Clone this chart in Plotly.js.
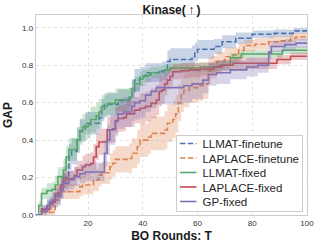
<!DOCTYPE html>
<html>
<head>
<meta charset="utf-8">
<script src="https://cdn.plot.ly/plotly-3.0.1.min.js"></script>
<style>html,body{margin:0;padding:0;background:#fff;}#chart{width:319px;height:248px;}</style>
</head>
<body>
<div id="chart"></div>
<script>
const seriesNames = ["LLMAT-finetune", "LAPLACE-finetune", "LLMAT-fixed", "LAPLACE-fixed", "GP-fixed"];

const tLlmatFt = [1,3,5,7,9,10,11,13,14,16,17,19,24,25,26,31,35,36,37,39,41,47,49,50,58,59,60,66,69,74,80,88,95,100];
const meanLlmatFt = [0,.035,.06,.08,.10,.15,.20,.31,.34,.40,.45,.49,.52,.56,.59,.61,.62,.66,.72,.74,.76,.77,.82,.83,.845,.87,.885,.90,.925,.944,.965,.97,.983,.983];
const stdLlmatFt = [0,.02,.03,.04,.05,.06,.06,.07,.07,.07,.06,.06,.06,.06,.06,.06,.06,.06,.06,.05,.05,.05,.06,.06,.06,.05,.05,.04,.035,.03,.02,.02,.015,.015];

const tLaplaceFt = [1,3,8,9,17,18,22,24,25,28,29,30,35,36,38,39,42,43,48,49,51,52,53,54,55,57,60,62,64,65,67,70,73,75,77,81,86,90,94,96,100];
const meanLaplaceFt = [0,.015,.08,.125,.15,.16,.187,.213,.226,.258,.276,.297,.302,.33,.365,.40,.415,.436,.454,.49,.51,.54,.60,.64,.665,.68,.69,.70,.77,.79,.82,.845,.855,.88,.905,.912,.925,.93,.945,.952,.952];
const stdLaplaceFt = [0,.02,.03,.04,.05,.05,.06,.06,.06,.07,.07,.07,.08,.08,.09,.09,.09,.09,.1,.1,.1,.1,.1,.09,.09,.08,.08,.08,.07,.06,.05,.05,.04,.04,.03,.03,.03,.025,.025,.02,.02];

const tLlmatFix = [1,2,3,5,7,8,9,11,12,13,16,17,18,20,21,23,24,25,27,30,35,36,37,39,40,42,43,46,48,50,61,68,72,76,91,100];
const meanLlmatFix = [0,.05,.115,.13,.137,.16,.205,.24,.31,.35,.40,.445,.47,.48,.51,.53,.55,.58,.595,.615,.63,.675,.70,.725,.74,.747,.76,.765,.775,.785,.79,.80,.84,.86,.88,.88];
const stdLlmatFix = [0,.02,.03,.04,.04,.05,.05,.06,.06,.06,.06,.07,.07,.07,.07,.07,.07,.06,.06,.06,.05,.05,.04,.04,.035,.035,.03,.03,.03,.025,.025,.025,.025,.02,.02,.02];

const tLaplaceFix = [1,3,6,7,8,10,11,12,15,16,18,19,21,22,23,24,27,29,30,31,33,34,37,39,41,43,45,46,47,48,49,50,51,54,57,61,66,69,73,89,94,100];
const meanLaplaceFix = [0,.03,.06,.07,.115,.16,.185,.195,.21,.24,.258,.267,.275,.31,.365,.39,.455,.46,.505,.515,.52,.54,.56,.57,.58,.596,.614,.66,.667,.70,.72,.74,.765,.77,.775,.78,.79,.80,.81,.83,.848,.848];
const stdLaplaceFix = [0,.02,.03,.03,.04,.04,.04,.04,.05,.05,.06,.06,.06,.07,.07,.07,.07,.07,.07,.07,.07,.07,.07,.08,.08,.08,.08,.08,.07,.06,.05,.05,.04,.04,.04,.035,.035,.03,.03,.025,.02,.02];

const tGpFix = [1,3,5,6,7,8,10,11,13,15,17,19,26,27,28,30,31,33,36,37,39,41,43,45,55,58,62,64,67,72,78,82,86,87,92,96,100];
const meanGpFix = [0,.02,.05,.07,.08,.10,.135,.17,.187,.205,.22,.23,.33,.40,.455,.50,.54,.55,.58,.60,.61,.64,.66,.68,.69,.70,.72,.75,.76,.775,.79,.80,.87,.90,.91,.918,.918];
const stdGpFix = [0,.02,.03,.03,.04,.04,.05,.05,.05,.05,.05,.05,.07,.08,.08,.08,.08,.08,.08,.09,.09,.09,.09,.09,.09,.08,.07,.06,.06,.05,.05,.04,.04,.03,.03,.025,.025];

const xTicks = [20, 40, 60, 80, 100];
const yTicks = [0, 0.2, 0.4, 0.6, 0.8, 1.0];

const colors = ["#4c72b0", "#dd8452", "#55a868", "#c44e52", "#8172b3"];
const fills = ["rgba(76,114,176,0.3)", "rgba(221,132,82,0.3)", "rgba(85,168,104,0.3)", "rgba(196,78,82,0.3)", "rgba(129,114,179,0.3)"];
const dashes = ["5.5px,2.4px", "5.5px,2.4px", "solid", "solid", "solid"];

const allT = [tLlmatFt, tLaplaceFt, tLlmatFix, tLaplaceFix, tGpFix];
const allMean = [meanLlmatFt, meanLaplaceFt, meanLlmatFix, meanLaplaceFix, meanGpFix];
const allStd = [stdLlmatFt, stdLaplaceFt, stdLlmatFix, stdLaplaceFix, stdGpFix];

const traces = [];
for (let i = 0; i < seriesNames.length; i++) {
  const t = allT[i], m = allMean[i], s = allStd[i];
  const lo = m.map((v, k) => Math.max(0, v - s[k]));
  const hi = m.map((v, k) => v + s[k]);
  traces.push({x: t, y: lo, mode: "lines", line: {width: 0, shape: "hv"}, showlegend: false, hoverinfo: "skip"});
  traces.push({x: t, y: hi, mode: "lines", line: {width: 0, shape: "hv"}, fill: "tonexty", fillcolor: fills[i], showlegend: false, hoverinfo: "skip"});
  traces.push({x: t, y: m, mode: "lines", name: seriesNames[i], line: {color: colors[i], width: 1.6, shape: "hv", dash: dashes[i]}});
}

const font = "Liberation Sans, Arial, sans-serif";
const legendX = 0.985, legendY = 0.02;
const layout = {
  width: 319, height: 248,
  margin: {l: 36, r: 12, t: 15, b: 33},
  paper_bgcolor: "#ffffff", plot_bgcolor: "#ffffff",
  font: {family: font, color: "#262626"},
  title: {text: "Kinase(\u2009\u2191\u2009)", font: {family: font, size: 12, weight: "bold", color: "#1a1a1a"}, x: 0.5, xref: "paper", y: 0.96, yanchor: "middle"},
  showlegend: true,
  legend: {x: legendX, xanchor: "right", y: legendY, yanchor: "bottom", traceorder: "normal", bgcolor: "rgba(255,255,255,0.85)", bordercolor: "#cccccc", borderwidth: 1, font: {family: font, size: 11.5, color: "#262626"}, tracegroupgap: 0},
  xaxis: {
    range: [1, 100], tickvals: xTicks, ticktext: xTicks.map(String),
    showgrid: true, gridcolor: "#dadada", griddash: "dot", gridwidth: 0.8,
    zeroline: false, showline: true, mirror: true, linecolor: "#cccccc", linewidth: 1.2,
    ticks: "", tickfont: {family: font, size: 8, color: "#333333"},
    title: {text: "BO Rounds: T", font: {family: font, size: 12, weight: "bold", color: "#1a1a1a"}, standoff: 4}
  },
  yaxis: {
    range: [0, 1.068], tickvals: yTicks, ticktext: yTicks.map(v => v.toFixed(1)),
    showgrid: true, gridcolor: "#dadada", griddash: "dot", gridwidth: 0.8,
    zeroline: false, showline: true, mirror: true, linecolor: "#cccccc", linewidth: 1.2,
    ticks: "", tickfont: {family: font, size: 8, color: "#333333"},
    title: {text: "GAP", font: {family: font, size: 12, weight: "bold", color: "#1a1a1a"}, standoff: 6}
  },
  hovermode: false
};

// Compact the legend to matplotlib-like spacing (short line samples, tighter rows).
function compactLegend(gd) {
  const leg = gd.querySelector(".legend");
  if (!leg) return;
  const sz = gd._fullLayout._size;
  const boxW = 126, boxH = 76, rowH = 14.5, firstRow = 8.5, sampleX = 3, sampleLen = 16.5, textX = 25.5;
  const right = sz.l + legendX * sz.w;
  const bottom = sz.t + sz.h * (1 - legendY);
  leg.setAttribute("transform", "translate(" + (right - boxW) + "," + (bottom - boxH) + ")");
  const bg = leg.querySelector("rect.bg");
  if (bg) { bg.setAttribute("width", boxW); bg.setAttribute("height", boxH); bg.setAttribute("x", 0); bg.setAttribute("y", 0); }
  const items = leg.querySelectorAll("g.traces");
  items.forEach((g, i) => {
    g.setAttribute("transform", "translate(0," + (firstRow + rowH * i) + ")");
    g.querySelectorAll(".legendlines path").forEach(p => p.setAttribute("d", "M" + sampleX + ",0h" + sampleLen));
    const txt = g.querySelector("text.legendtext");
    if (txt) {
      txt.setAttribute("x", textX);
      txt.querySelectorAll("tspan").forEach(ts => { if (ts.hasAttribute("x")) ts.setAttribute("x", textX); });
    }
  });
}

Plotly.newPlot("chart", traces, layout, {staticPlot: true, displayModeBar: false}).then(compactLegend);
</script>
</body>
</html>
